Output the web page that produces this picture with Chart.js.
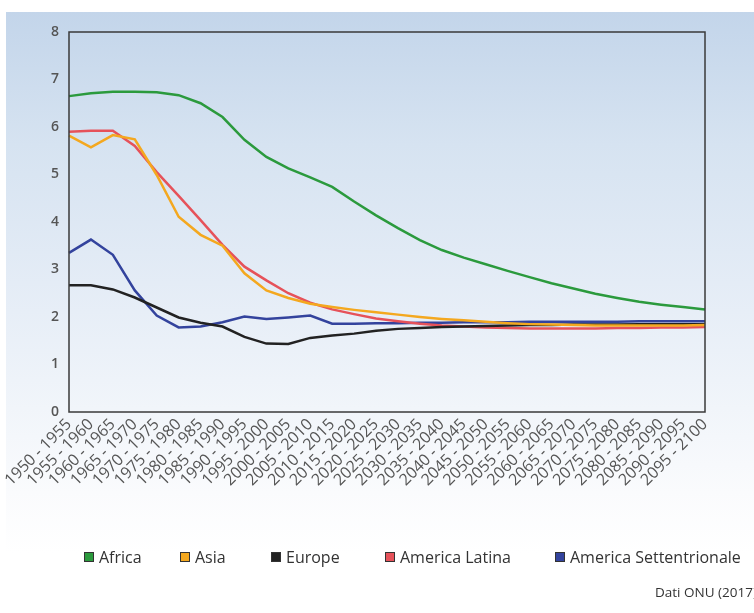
<!DOCTYPE html>
<html lang="it">
<head>
<meta charset="utf-8">
<title>Tasso di fecondità per continente</title>
<script src="https://cdn.jsdelivr.net/npm/chart.js@4/dist/chart.umd.min.js"></script>
<style>
  html, body { margin: 0; padding: 0; background: #ffffff; }
  body { width: 754px; height: 613px; position: relative; overflow: hidden; font-family: "Open Sans", sans-serif; }
  #panel {
    position: absolute; left: 6px; top: 12px; right: 0; bottom: 0;
    background: linear-gradient(to bottom, #c3d5ea 0%, #d6e3f1 22%, #e4ecf6 45%, #f1f5fa 66%, #fafbfd 80%, #ffffff 90%);
  }
  #wrap { position: absolute; left: 0; top: 0; width: 754px; height: 613px; }
  #legend { position: absolute; left: 0; top: 546px; width: 754px; height: 22px; font-size: 16px; color: #333; }
  .item { position: absolute; top: 0; display: flex; align-items: center; gap: 5px; white-space: nowrap; height: 22px; }
  .swatch { width: 8px; height: 8px; border: 1px solid #333; }
  #source { position: absolute; left: 655px; top: 583px; font-size: 13.5px; color: #333; white-space: nowrap; }
</style>
</head>
<body>
<div id="panel"></div>
<div id="wrap"><canvas id="chart" width="754" height="613"></canvas></div>
<div id="legend"></div>
<div id="source">Dati ONU (2017)</div>
<script>
// Periods (x axis)
const periods = [
  '1950 - 1955', '1955 - 1960', '1960 - 1965', '1965 - 1970', '1970 - 1975',
  '1975 - 1980', '1980 - 1985', '1985 - 1990', '1990 - 1995', '1995 - 2000',
  '2000 - 2005', '2005 - 2010', '2010 - 2015', '2015 - 2020', '2020 - 2025',
  '2025 - 2030', '2030 - 2035', '2035 - 2040', '2040 - 2045', '2045 - 2050',
  '2050 - 2055', '2055 - 2060', '2060 - 2065', '2065 - 2070', '2070 - 2075',
  '2075 - 2080', '2080 - 2085', '2085 - 2090', '2090 - 2095', '2095 - 2100'
];

// Figli per donna, per area
const africa = [6.65, 6.71, 6.74, 6.74, 6.73, 6.67, 6.50, 6.21, 5.73, 5.37, 5.13, 4.94, 4.74, 4.43, 4.14, 3.87, 3.62, 3.41, 3.25, 3.11, 2.97, 2.84, 2.71, 2.60, 2.49, 2.40, 2.32, 2.26, 2.21, 2.16];
const asia = [5.82, 5.57, 5.83, 5.74, 4.99, 4.11, 3.73, 3.50, 2.92, 2.56, 2.40, 2.28, 2.21, 2.15, 2.10, 2.05, 2.00, 1.96, 1.93, 1.90, 1.87, 1.85, 1.84, 1.83, 1.82, 1.82, 1.82, 1.82, 1.82, 1.83];
const europe = [2.67, 2.67, 2.58, 2.41, 2.20, 1.99, 1.88, 1.80, 1.58, 1.44, 1.43, 1.56, 1.61, 1.65, 1.71, 1.75, 1.77, 1.79, 1.80, 1.81, 1.82, 1.83, 1.83, 1.84, 1.84, 1.84, 1.85, 1.85, 1.85, 1.85];
const americaLatina = [5.90, 5.92, 5.92, 5.60, 5.05, 4.55, 4.04, 3.52, 3.06, 2.77, 2.50, 2.30, 2.16, 2.06, 1.97, 1.91, 1.86, 1.82, 1.80, 1.78, 1.77, 1.76, 1.76, 1.76, 1.76, 1.77, 1.77, 1.78, 1.78, 1.79];
const americaSettentrionale = [3.35, 3.63, 3.31, 2.56, 2.03, 1.78, 1.80, 1.89, 2.01, 1.96, 1.99, 2.03, 1.86, 1.86, 1.87, 1.87, 1.88, 1.88, 1.89, 1.89, 1.89, 1.90, 1.90, 1.90, 1.90, 1.90, 1.91, 1.91, 1.91, 1.91];

// Y axis ticks
const yTicks = [0, 1, 2, 3, 4, 5, 6, 7, 8];

const series = [
  { label: 'Africa', data: africa, color: '#2b9a3d' },
  { label: 'Asia', data: asia, color: '#f4a81f' },
  { label: 'Europe', data: europe, color: '#222222' },
  { label: 'America Latina', data: americaLatina, color: '#e6525a' },
  { label: 'America Settentrionale', data: americaSettentrionale, color: '#33439d' }
];

// Left edge of each legend entry
const legendLeft = [84, 180, 271, 385, 555];

// Dark frame around the plotting area
const frame = {
  id: 'frame',
  afterDraw(chart) {
    const { ctx, chartArea: a } = chart;
    ctx.save();
    ctx.strokeStyle = '#3a3a3a';
    ctx.lineWidth = 1.5;
    ctx.strokeRect(a.left, a.top, a.right - a.left, a.bottom - a.top);
    ctx.restore();
  }
};

// HTML legend built from the chart's datasets
const htmlLegend = {
  id: 'htmlLegend',
  afterUpdate(chart) {
    const box = document.getElementById('legend');
    box.innerHTML = '';
    chart.data.datasets.forEach((ds, i) => {
      const item = document.createElement('div');
      item.className = 'item';
      item.style.left = legendLeft[i] + 'px';
      const sw = document.createElement('span');
      sw.className = 'swatch';
      sw.style.background = ds.borderColor;
      const tx = document.createElement('span');
      tx.textContent = ds.label;
      item.appendChild(sw);
      item.appendChild(tx);
      box.appendChild(item);
    });
  }
};

new Chart(document.getElementById('chart'), {
  type: 'line',
  data: {
    labels: periods,
    datasets: series.map(s => ({
      label: s.label,
      data: s.data,
      borderColor: s.color,
      backgroundColor: s.color,
      borderWidth: 2.5,
      pointRadius: 0,
      tension: 0,
      fill: false
    }))
  },
  options: {
    responsive: false,
    animation: false,
    layout: { padding: { top: 32, right: 49, bottom: 111, left: 0 } },
    plugins: {
      legend: { display: false },
      tooltip: { enabled: false }
    },
    scales: {
      x: {
        offset: false,
        grid: { display: false, drawTicks: false },
        border: { display: false },
        ticks: {
          autoSkip: false,
          minRotation: 45,
          maxRotation: 45,
          padding: 3,
          color: '#555',
          font: { family: 'Open Sans', size: 16 }
        },
        afterFit(scale) { scale.height = 90; }
      },
      y: {
        min: 0,
        max: 8,
        afterBuildTicks(scale) { scale.ticks = yTicks.map(v => ({ value: v })); },
        grid: { display: false, drawTicks: false },
        border: { display: false },
        ticks: {
          padding: 10,
          color: '#555',
          font: { family: 'Open Sans', size: 14, weight: '600' }
        },
        afterFit(scale) { scale.width = 69; }
      }
    }
  },
  plugins: [frame, htmlLegend]
});
</script>
</body>
</html>
